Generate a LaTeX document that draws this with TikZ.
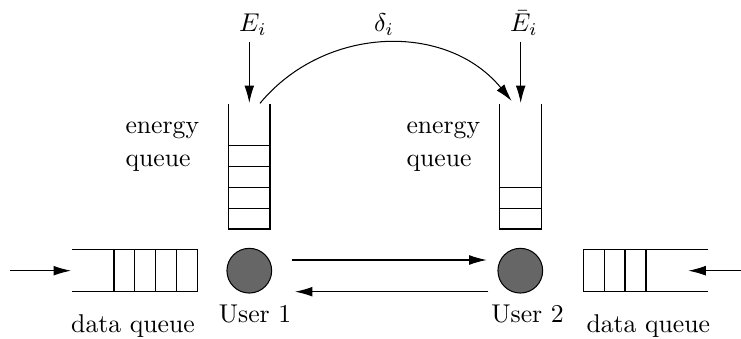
\documentclass[tikz,border=0pt]{standalone}
\usetikzlibrary{arrows.meta}
\begin{document}
\begin{tikzpicture}[x=0.389pt,y=-0.389pt,
  tip/.style={-{Latex[length=6.8pt,width=3.8pt]}},
  user/.style={circle,draw,fill=black!60,minimum size=17.4pt,inner sep=0pt},
  lbl/.style={inner sep=0pt,anchor=base},
  lblw/.style={inner sep=0pt,anchor=base west},
  line width=0.4pt]
\useasboundingbox (0,0) rectangle (741,339);

% users
\node[user] (u1) at (249.3,270.7) {};
\node[user] (u2) at (520.3,270.7) {};
\node[lbl] (t1) at (255,322.7) {User 1};
\node[lbl] (t2) at (527.5,322.7) {User 2};
\node[lbl] (dq1) at (133,332.3) {data queue};
\node[lbl] (dq2) at (648.3,332.3) {data queue};

% energy queue labels
\node[lblw] (en1) at (125,134) {energy};
\node[lblw] (qu1) at (125,166.7) {queue};
\node[lblw] (en2) at (406,134) {energy};
\node[lblw] (qu2) at (406,166.7) {queue};

% math labels
\node[lbl] (Ei) at (253,32) {$E_i$};
\node[lbl] (di) at (384,32) {$\delta_i$};
\node[lbl] (Ebi) at (524,32) {$\bar{E}_i$};

% energy queue 1
\draw (228.3,104) -- (228.3,229) -- (270,229) -- (270,104);
\foreach \y in {145.7,166.3,187.3,208.3} \draw (228.3,\y) -- (270,\y);
% energy queue 2
\draw (499.3,104) -- (499.3,229) -- (541.7,229) -- (541.7,104);
\foreach \y in {187.3,208.3} \draw (499.3,\y) -- (541.7,\y);

% data queue 1
\draw (72.3,249.3) -- (197.3,249.3) -- (197.3,291.7) -- (72.3,291.7);
\foreach \x in {114,134.7,155.7,176.3} \draw (\x,249.3) -- (\x,291.7);
% data queue 2
\draw (708.3,249.3) -- (583.3,249.3) -- (583.3,291.7) -- (708.3,291.7);
\foreach \x in {604.3,625,646} \draw (\x,249.3) -- (\x,291.7);

% connector end points
\coordinate (ea1) at (249.3,41.7);
\coordinate (eb1) at (249.3,103);
\coordinate (ea2) at (520.7,41.7);
\coordinate (eb2) at (520.7,103);
\coordinate (d1) at (260,103.3);
\coordinate (d2) at (511.7,101);
\coordinate (in1s) at (10,270.7);
\coordinate (in1e) at (71,270.7);
\coordinate (in2s) at (741,270.7);
\coordinate (in2e) at (688.3,270.7);
\coordinate (ta) at (291.7,260);
\coordinate (tb) at (486.7,260);
\coordinate (ba) at (488.3,291.7);
\coordinate (bb) at (295,291.7);

\draw[tip] (ea1) -- (eb1);
\draw[tip] (ea2) -- (eb2);
\draw[tip] (d1) .. controls (325,25) and (447,22) .. (d2);
\draw[tip] (in1s) -- (in1e);
\draw[tip] (in2s) -- (in2e);
\draw[tip] (ta) -- (tb);
\draw[tip] (ba) -- (bb);
\end{tikzpicture}
\end{document}
